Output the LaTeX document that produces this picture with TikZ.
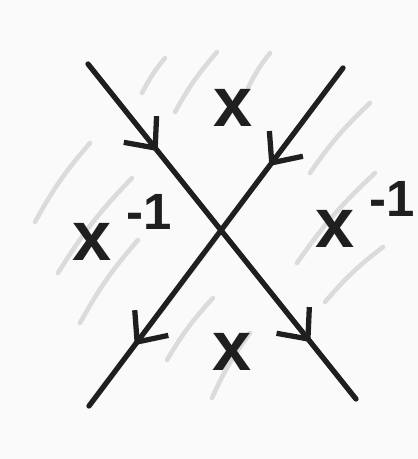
\documentclass[tikz,border=0pt]{standalone}
\usepackage{fontspec}
\setmainfont{Liberation Sans}
\usetikzlibrary{arrows.meta,decorations.markings}
\newcommand\xsup{\hspace{0.3cm}\raisebox{0.62cm}{\fontsize{29}{29}\selectfont -1}}
\tikzset{
	strand/.style={line width=3pt, black!88},
	hatch/.style={line width=2.6pt, black!14},
	barbs/.style 2 args={postaction={decorate, decoration={markings,
		mark=at position #1 with {\arrow{Straight Barb[length=0.48cm, width=0.84cm, line width=3pt]}},
		mark=at position #2 with {\arrow{Straight Barb[length=0.48cm, width=0.84cm, line width=3pt]}}}}},
	lbl/.style={inner sep=0pt, black!88, font=\fontsize{40}{40}\selectfont\bfseries},
}
\begin{document}
\begin{tikzpicture}[x=0.02cm, y=-0.02cm, line join=round, line cap=round]
	\fill[black!2] (0,0) rectangle (418,459);
	\useasboundingbox (0,0) rectangle (418,459);
	\foreach \xa/\ya/\xb/\yb in {142/93/165/58, 175/112/217/52, 248/88/270/53,
		35/222/90/143, 58/273/132/178, 80/323/138/240, 167/360/213/298, 212/398/250/333,
		310/173/370/103, 297/263/375/173, 325/302/383/247}
		\draw[hatch] (\xa,\ya) to[bend left=6] (\xb,\yb);
	\coordinate (nw) at (88,64);
	\coordinate (se) at (356,399);
	\coordinate (ne) at (343,68);
	\coordinate (sw) at (89,406);
	\draw[strand, barbs={.26}{.83}] (nw) -- (se);
	\draw[strand, barbs={.29}{.82}] (ne) -- (sw);
	\node[lbl] (xtop) at (233,108) {x};
	\node[lbl] (xbot) at (232,352) {x};
	\node[lbl, anchor=base west] (xleft) at (72,260) {x\xsup};
	\node[lbl, anchor=base west] (xright) at (315,247) {x\xsup};
\end{tikzpicture}
\end{document}
